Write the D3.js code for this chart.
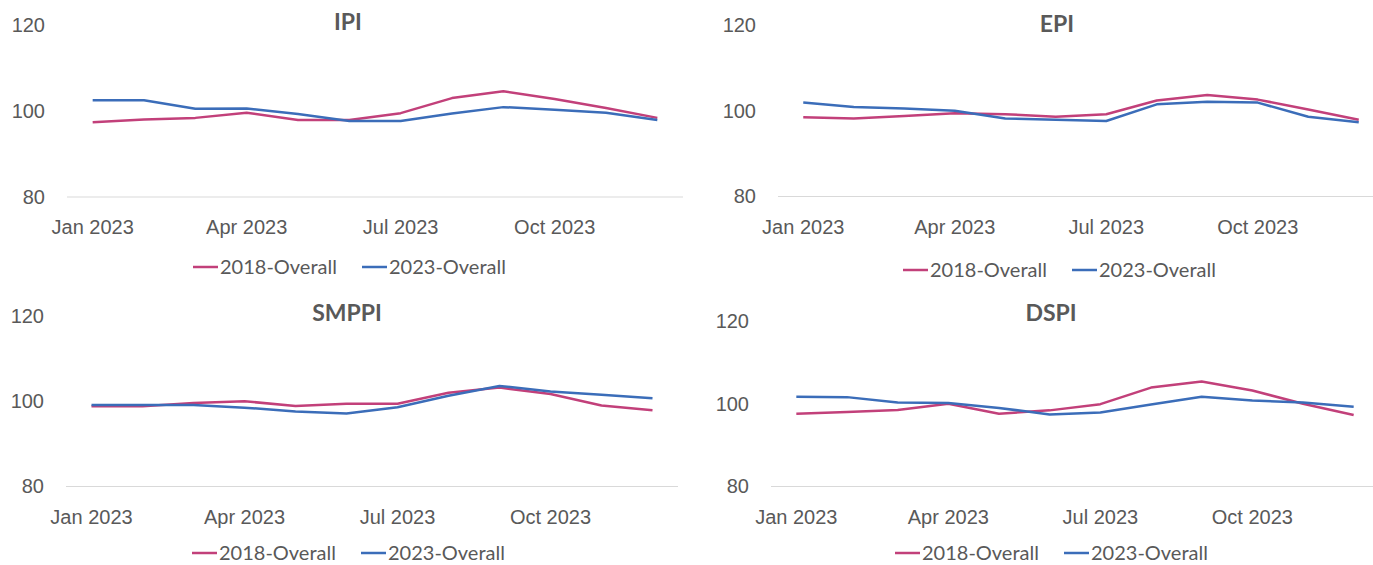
<!DOCTYPE html>
<html>
<head>
<meta charset="utf-8">
<script src="https://cdn.jsdelivr.net/npm/d3@7"></script>
<style>
  body { margin: 0; background: #fff; }
  svg { display: block; font-family: Lato, "Open Sans", sans-serif; }
  .tick text { fill: #595959; font-size: 20px; }
  .title { fill: #595959; font-size: 23px; font-weight: bold; }
  .legend text { fill: #595959; font-size: 20px; }
</style>
</head>
<body>
<svg id="chart" width="1373" height="565"></svg>
<script>
var months = ["Jan 2023","Feb 2023","Mar 2023","Apr 2023","May 2023","Jun 2023",
              "Jul 2023","Aug 2023","Sep 2023","Oct 2023","Nov 2023","Dec 2023"];
var shownMonths = ["Jan 2023","Apr 2023","Jul 2023","Oct 2023"];
var yTicks = [80, 100, 120];
var seriesNames = ["2018-Overall", "2023-Overall"];
var colors = ["#c2407a", "#3b6db9"];

// values
var ipi2018 = [97.4, 98.0, 98.4, 99.6, 97.9, 97.9, 99.5, 103.0, 104.6, 102.8, 100.7, 98.4];
var ipi2023 = [102.5, 102.5, 100.5, 100.6, 99.3, 97.7, 97.7, 99.4, 100.9, 100.3, 99.6, 97.9];
var epi2018 = [98.5, 98.2, 98.8, 99.4, 99.2, 98.6, 99.2, 102.4, 103.7, 102.6, 100.3, 97.9];
var epi2023 = [101.9, 100.9, 100.5, 100.0, 98.2, 97.9, 97.6, 101.5, 102.1, 101.9, 98.6, 97.3];
var smppi2018 = [98.8, 98.8, 99.6, 100.0, 98.9, 99.4, 99.4, 102.0, 103.2, 101.7, 99.0, 97.9];
var smppi2023 = [99.1, 99.1, 99.1, 98.5, 97.6, 97.1, 98.6, 101.3, 103.6, 102.3, 101.5, 100.7];
var dspi2018 = [97.6, 98.0, 98.5, 100.0, 97.6, 98.4, 99.9, 103.9, 105.4, 103.2, 100.0, 97.3];
var dspi2023 = [101.7, 101.6, 100.3, 100.2, 99.0, 97.4, 97.9, 99.8, 101.7, 100.8, 100.3, 99.3];

var panels = [
  { title: "IPI",   s18: ipi2018,   s23: ipi2023,   left: 67,  width: 616, top: 25,  bottom: 197,   titleX: 348,  titleY: 22,  legX: 193, legY: 267 },
  { title: "EPI",   s18: epi2018,   s23: epi2023,   left: 778, width: 606, top: 25,  bottom: 196.5, titleX: 1057, titleY: 24,  legX: 903, legY: 270 },
  { title: "SMPPI", s18: smppi2018, s23: smppi2023, left: 66,  width: 612, top: 316, bottom: 486.5, titleX: 347,  titleY: 313, legX: 192, legY: 553 },
  { title: "DSPI",  s18: dspi2018,  s23: dspi2023,  left: 771, width: 608, top: 321, bottom: 486.5, titleX: 1051, titleY: 313, legX: 895, legY: 553 }
];

var svg = d3.select("#chart");

panels.forEach(function(p) {
  var g = svg.append("g");

  var x = d3.scaleBand()
    .domain(months)
    .range([p.left, p.left + p.width])
    .padding(0);

  var y = d3.scaleLinear()
    .domain([80, 120])
    .range([p.bottom, p.top]);

  // baseline at 80
  g.append("line")
    .attr("x1", p.left)
    .attr("x2", p.left + p.width)
    .attr("y1", y(80))
    .attr("y2", y(80))
    .style("stroke", "#d9d9d9")
    .style("stroke-width", "1px");

  var xAxis = g.append("g")
    .attr("transform", "translate(0," + (y(80) + 30) + ")")
    .call(d3.axisBottom(x).tickValues(shownMonths).tickSize(0).tickPadding(0));
  xAxis.select(".domain").remove();
  xAxis.selectAll("text").attr("dy", "0.35em").style("font-family", null);

  var yAxis = g.append("g")
    .attr("transform", "translate(" + (p.left - 22) + ",0)")
    .call(d3.axisLeft(y).tickValues(yTicks).tickSize(0).tickPadding(0));
  yAxis.select(".domain").remove();
  yAxis.selectAll("text").style("font-family", null);

  var line = d3.line()
    .x(function(d, i) { return x(months[i]) + x.bandwidth() / 2; })
    .y(function(d) { return y(d); });

  [p.s18, p.s23].forEach(function(s, k) {
    g.append("path")
      .datum(s)
      .attr("d", line)
      .style("fill", "none")
      .style("stroke", colors[k])
      .style("stroke-width", "2.5px")
      .style("stroke-linejoin", "round");
  });

  g.append("text")
    .attr("class", "title")
    .attr("x", p.titleX)
    .attr("y", p.titleY)
    .attr("text-anchor", "middle")
    .attr("dy", "0.35em")
    .text(p.title);

  var leg = g.append("g").attr("class", "legend");
  seriesNames.forEach(function(name, k) {
    var lx = p.legX + k * 169;
    leg.append("line")
      .attr("x1", lx).attr("x2", lx + 25)
      .attr("y1", p.legY).attr("y2", p.legY)
      .style("stroke", colors[k])
      .style("stroke-width", "2.5px");
    leg.append("text")
      .attr("x", lx + 27)
      .attr("y", p.legY)
      .attr("dy", "0.35em")
      .text(name);
  });
});
</script>
</body>
</html>
